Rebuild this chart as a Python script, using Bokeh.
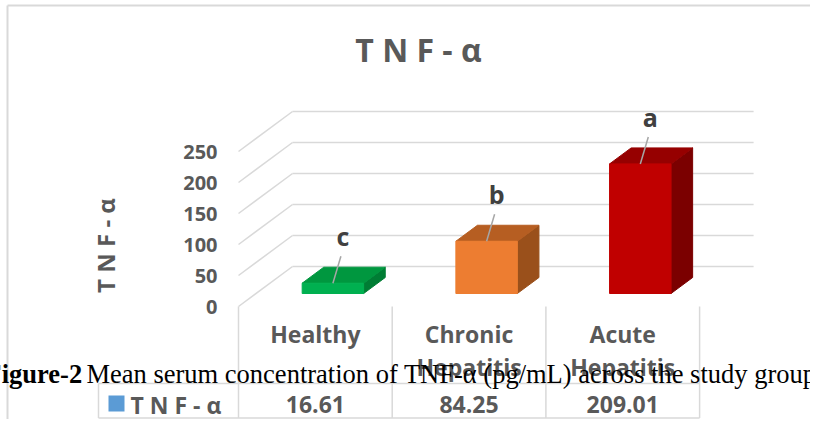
import math
from bokeh.plotting import figure
from bokeh.models import Range1d
from bokeh.core.properties import value
from bokeh.embed import file_html
from bokeh.resources import INLINE

# ---------------- data ----------------
categories = ["Healthy", "Chronic Hepatitis", "Acute Hepatitis"]
tnf_values = [16.61, 84.25, 209.01]
sig_letters = ["c", "b", "a"]
y_ticks = [0, 50, 100, 150, 200, 250]
value_labels = ["16.61", "84.25", "209.01"]
series_name = "T N F - α"
chart_title = "T N F - α"
axis_title = "T N F - α"
caption_bold = "Figure-2"
caption_text = "Mean serum concentration of TNF-α (pg/mL) across the study groups"
front_colors = ["#00B050", "#ED7D31", "#C00000"]
top_colors = ["#00973F", "#B65E22", "#960000"]
side_colors = ["#007D34", "#9A501B", "#7B0000"]

# ---------------- layout calibration ----------------
W, H = 810, 419
OFF = 0
X0, Y0 = 238.0, 306.0     # pixel of front-plane origin
PXX = 153.7               # px per category unit
PXV = 0.62                # px per value unit
DEPTH_DX = 54 / PXX
DEPTH_DV = 40 / PXV
D_FRONT, D_BACK = 0.325, 0.725
HALF = 0.2
TABLE_BOTTOM = min(425, OFF + H - 1.5)

def sx(X):
    return (X - X0) / PXX

def sv(Y):
    return (Y0 - Y) / PXV

def proj(x, v, d):
    return x + d * DEPTH_DX, v + d * DEPTH_DV

n = len(categories)
GRID = "#D9D9D9"
TXT = "#595959"
FONT = value("Open Sans")

p = figure(width=W, height=H,
           x_range=Range1d(sx(OFF), sx(OFF + W)),
           y_range=Range1d(sv(OFF + H), sv(OFF)),
           x_axis_type=None, y_axis_type=None,
           toolbar_location=None, output_backend="svg",
           min_border=0, outline_line_color=None)
p.background_fill_color = "white"
p.border_fill_color = "white"

# outer chart border (top and left)
p.segment(x0=[sx(7), sx(7)], y0=[sv(5), sv(5)], x1=[sx(830), sx(7)], y1=[sv(5), sv(450)],
          line_color=GRID, line_width=2)

# gridlines: back wall + left side wall
gx, gy = [], []
for t in y_ticks:
    bx0, bv0 = proj(0, t, 1)
    bx1, bv1 = proj(n, t, 1)
    gx.append([bx0, bx1]); gy.append([bv0, bv1])
    fx, fv = proj(0, t, 0)
    gx.append([fx, bx0]); gy.append([fv, bv0])
p.multi_line(gx, gy, line_color=GRID, line_width=1.5)

# table lines
tx, ty = [], []
for k in range(n + 1):
    tx.append([k, k]); ty.append([0, sv(TABLE_BOTTOM)])
for Yl in (383, TABLE_BOTTOM):
    tx.append([sx(98), n]); ty.append([sv(Yl), sv(Yl)])
tx.append([sx(98), sx(98)]); ty.append([sv(383), sv(TABLE_BOTTOM)])
p.multi_line(tx, ty, line_color=GRID, line_width=1.5)

# 3D bars
side_xs, side_ys, top_xs, top_ys = [], [], [], []
fl, fr, fb, ft = [], [], [], []
for i, v in enumerate(tnf_values):
    c = i + 0.5
    a = proj(c - HALF, 0, D_FRONT)
    b = proj(c + HALF, 0, D_FRONT)
    at = proj(c - HALF, v, D_FRONT)
    bt = proj(c + HALF, v, D_FRONT)
    bb = proj(c + HALF, 0, D_BACK)
    btb = proj(c + HALF, v, D_BACK)
    atb = proj(c - HALF, v, D_BACK)
    side_xs.append([b[0], bb[0], btb[0], bt[0]])
    side_ys.append([b[1], bb[1], btb[1], bt[1]])
    top_xs.append([at[0], bt[0], btb[0], atb[0]])
    top_ys.append([at[1], bt[1], btb[1], atb[1]])
    fl.append(a[0]); fr.append(b[0]); fb.append(a[1]); ft.append(at[1])
p.patches(side_xs, side_ys, fill_color=side_colors, line_color=side_colors, line_width=1)
p.patches(top_xs, top_ys, fill_color=top_colors, line_color=top_colors, line_width=1)
p.quad(left=fl, right=fr, bottom=fb, top=ft, fill_color=front_colors,
       line_color=front_colors, line_width=1)

# significance letters with leader lines
lx0, ly0, lx1, ly1, tlx, tly = [], [], [], [], [], []
for i, v in enumerate(tnf_values):
    fx, fv = proj(i + 0.5, v, D_FRONT)
    lx0.append(fx); ly0.append(fv)
    lx1.append(fx + 8 / PXX); ly1.append(fv + 27 / PXV)
    tlx.append(fx + 10 / PXX); tly.append(fv + 47 / PXV)
p.segment(x0=lx0, y0=ly0, x1=lx1, y1=ly1, line_color="#A6A6A6", line_width=1.5)
p.text(x=tlx, y=tly, text=sig_letters, text_font=FONT, text_font_style="bold",
       text_font_size="25px", text_color="#404040", text_align="center",
       text_baseline="middle")

# y tick labels
p.text(x=[sx(217)] * len(y_ticks), y=y_ticks, text=[str(t) for t in y_ticks],
       text_font=FONT, text_font_style="bold", text_font_size="20px",
       text_color=TXT, text_align="right", text_baseline="middle")

# axis title
p.text(x=[sx(105)], y=[sv(245)], text=[axis_title], angle=math.pi / 2,
       text_font=FONT, text_font_style="bold", text_font_size="24px",
       text_color=TXT, text_align="center", text_baseline="middle")

# chart title
p.text(x=[sx(418)], y=[sv(49)], text=[chart_title], text_font=FONT,
       text_font_style="bold", text_font_size="32px", text_color=TXT,
       text_align="center", text_baseline="middle")

# category labels (table header row)
cx, cy, ct = [], [], []
for i, name in enumerate(categories):
    for j, w in enumerate(name.split(" ")):
        cx.append(i + 0.5); cy.append(sv(333 + 33 * j)); ct.append(w)
p.text(x=cx, y=cy, text=ct, text_font=FONT, text_font_style="bold",
       text_font_size="23px", text_color=TXT, text_align="center",
       text_baseline="middle")

# data table row
p.quad(left=[sx(108)], right=[sx(124)], top=[sv(395)], bottom=[sv(411)],
       fill_color="#5B9BD5", line_color=None)
p.text(x=[sx(130)], y=[sv(404)], text=[series_name], text_font=FONT,
       text_font_style="bold", text_font_size="23px", text_color=TXT,
       text_align="left", text_baseline="middle")
p.text(x=[i + 0.5 for i in range(n)], y=[sv(404)] * n, text=value_labels,
       text_font=FONT, text_font_style="bold", text_font_size="23px",
       text_color=TXT, text_align="center", text_baseline="middle")

# caption overlapping the chart
p.text(x=[sx(-15)], y=[sv(373)], text=[caption_bold], text_font=value("Liberation Serif"),
       text_font_style="bold", text_font_size="26.5px", text_color="black",
       text_align="left", text_baseline="alphabetic")
p.text(x=[sx(86)], y=[sv(373)], text=[caption_text], text_font=value("Liberation Serif"),
       text_font_size="26.5px", text_color="black",
       text_align="left", text_baseline="alphabetic")

open("out.html", "w", encoding="utf-8").write(file_html(p, INLINE))
